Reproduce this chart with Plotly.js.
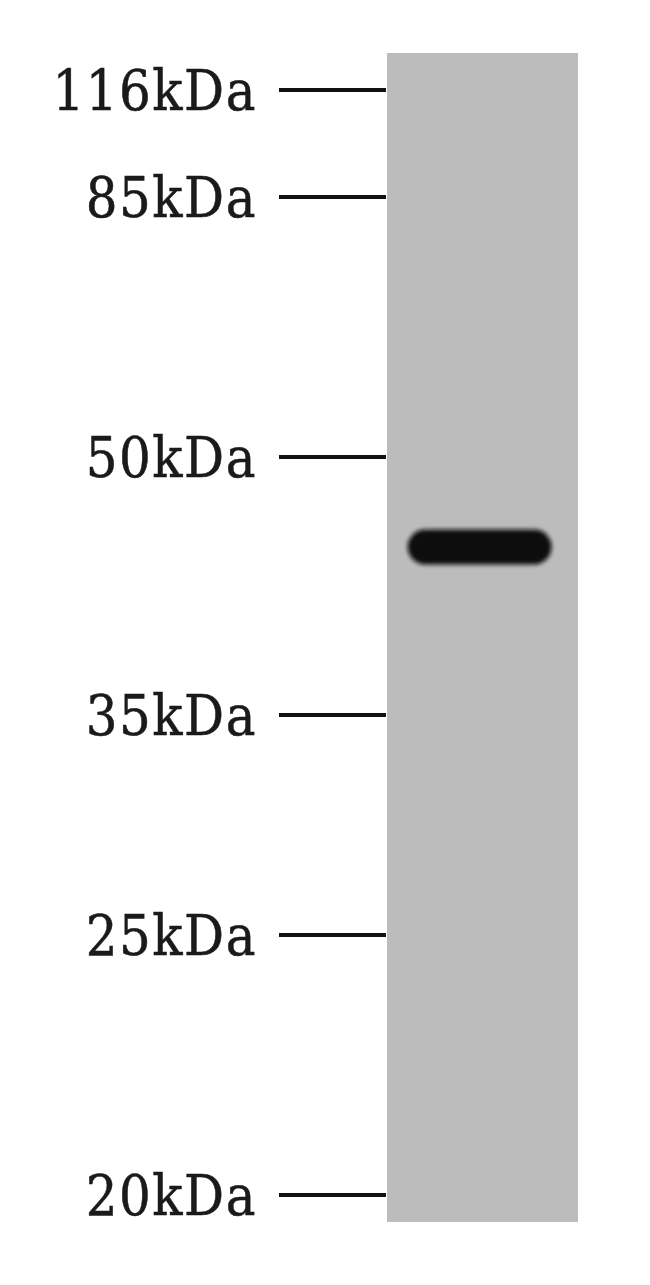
<!DOCTYPE html>
<html>
<head>
<meta charset="utf-8">
<script src="https://cdn.plot.ly/plotly-3.0.1.min.js"></script>
<style>
  body { margin: 0; background: #fff; }
  #blot .ytick text { letter-spacing: 1.5px; stroke: #1a1a1a; stroke-width: 0.5px; }
  #blot .scatterlayer .js-line { stroke-linecap: round; }
  #blot .scatterlayer .trace { filter: url(#soft); }   /* soften band edges */
</style>
</head>
<body>
<svg width="0" height="0" style="position:absolute">
  <filter id="soft" filterUnits="userSpaceOnUse" x="-2000" y="-2000" width="6000" height="6000">
    <feGaussianBlur stdDeviation="2.2"/>
  </filter>
</svg>
<div id="blot" style="width:650px;height:1285px;"></div>
<script>
// marker ladder: label and migration distance from top of lane (scan px)
var markerLabels = ['116kDa', '85kDa', '50kDa', '35kDa', '25kDa', '20kDa'];
var markerMigration = [37, 144, 404, 662, 882, 1142];
var laneLength = 1169;

// the one detected band (~43 kDa)
var bandMigration = 494;
var bandStart = 0.2;      // fraction of lane width
var bandEnd = 0.77;

var data = [
  {
    // band: thick line, round caps set in css
    x: [bandStart, bandEnd],
    y: [bandMigration, bandMigration],
    type: 'scatter',
    mode: 'lines',
    line: {color: '#101010', width: 35},
    hoverinfo: 'skip'
  }
];

var layout = {
  width: 650,
  height: 1285,
  showlegend: false,
  paper_bgcolor: '#ffffff',
  plot_bgcolor: '#bcbcbc',          // lane grey
  margin: {l: 387, r: 72, t: 53, b: 63, pad: 0},
  xaxis: {range: [0, 1], visible: false, fixedrange: true},
  yaxis: {
    range: [laneLength, 0],          // reversed: top of lane = 0
    tickmode: 'array',
    tickvals: markerMigration,
    ticktext: markerLabels,
    ticks: 'outside',
    ticklen: 107,
    tickwidth: 4,
    tickcolor: '#111111',
    ticklabelstandoff: 12,
    tickfont: {family: '"DejaVu Serif", serif', size: 50, color: '#1a1a1a'},
    showgrid: false,
    zeroline: false,
    showline: false
  }
};

var options = {staticPlot: true};

Plotly.newPlot('blot', data, layout, options).then(function () {
  // stretch tick labels vertically, the original font is tall and narrow
  document.querySelectorAll('#blot .ytick text').forEach(function (t) {
    var b = t.getBBox();
    var cy = b.y + b.height / 2;
    var tr = t.getAttribute('transform') || '';
    t.setAttribute('transform', tr + ' translate(0,' + cy + ') scale(1,1.12) translate(0,' + (-cy) + ')');
  });
});
</script>
</body>
</html>
